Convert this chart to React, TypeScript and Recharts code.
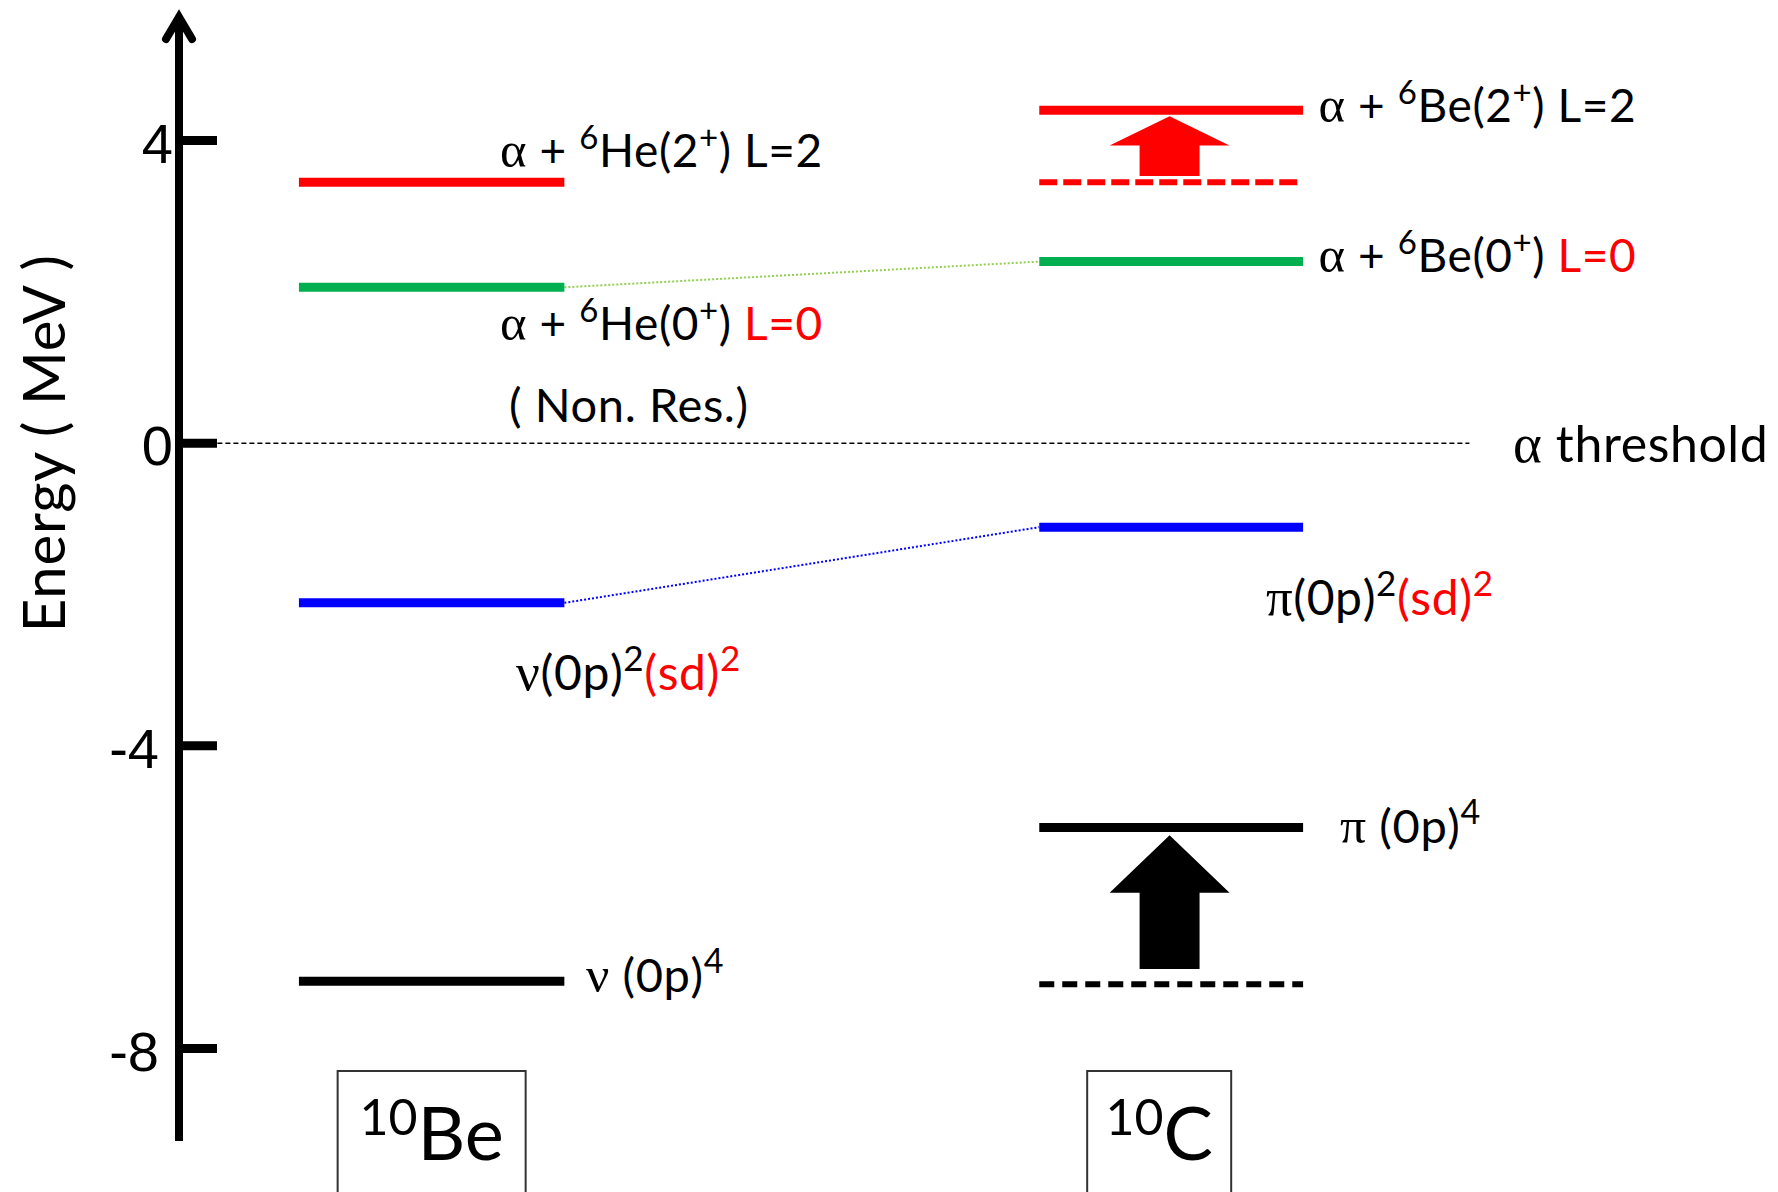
import React from "react";
import {
  ComposedChart,
  Line,
  Scatter,
  XAxis,
  YAxis,
  ReferenceArea,
  ReferenceDot,
} from "recharts";

// energies in MeV, measured from the alpha threshold
const energyTicks = [-8, -4, 0, 4];
const nuclei = ["10Be", "10C"];
// order: (0p)^4, (0p)^2(sd)^2, alpha+6X(0+), alpha+6X(2+)
const be10Levels = [-7.11, -2.11, 2.06, 3.45];
const c10Levels = [-5.08, -1.11, 2.4, 4.4];
// dashed 10C levels = where the 10Be counterpart sits before the shift
const c10Unshifted = [
  { level: 0, energy: -7.15 },
  { level: 3, energy: 3.45 },
];
const shiftArrows = [
  { from: -6.95, to: -5.18, color: "#000000" },
  { from: 3.53, to: 4.32, color: "#ff0000" },
];

const W = 1778;
const H = 1192;
const Y_MIN = -9.222;
const Y_MAX = 5.593;

const levelColors = ["#000000", "#0000ff", "#00b050", "#ff0000"];
const connectorColors: Record<number, string> = { 1: "#0000ff", 2: "#92d050" };

// horizontal layout, x axis runs 0..100
const BE_SPAN = [7.5, 24.1];
const C_SPAN = [53.8, 70.3];
const THRESHOLD_SPAN = [2.4, 80.7];
const ARROW_SPAN = [58.2, 65.7];
const BOX_X = [15.8, 61.3];
const BOX_W = [188, 144];

const FONT = "Lato, 'Open Sans', sans-serif";
const GREEK = "'Liberation Serif', 'DejaVu Serif', serif";
const RED = "#ff0000";

type Part = { t: string; sup?: boolean; red?: boolean; greek?: boolean };

const levelLabels: { id: string; size: number; parts: Part[] }[] = [
  {
    id: "he2",
    size: 46,
    parts: [
      { t: "α", greek: true },
      { t: " + " },
      { t: "6", sup: true },
      { t: "He(2" },
      { t: "+", sup: true },
      { t: ") L=2" },
    ],
  },
  {
    id: "he0",
    size: 46,
    parts: [
      { t: "α", greek: true },
      { t: " + " },
      { t: "6", sup: true },
      { t: "He(0" },
      { t: "+", sup: true },
      { t: ") " },
      { t: "L=0", red: true },
    ],
  },
  { id: "nonres", size: 47, parts: [{ t: "( Non. Res.)" }] },
  { id: "thr", size: 50, parts: [{ t: "α", greek: true }, { t: " threshold" }] },
  {
    id: "nusd",
    size: 48,
    parts: [
      { t: "ν", greek: true },
      { t: "(0p)" },
      { t: "2", sup: true },
      { t: "(sd)", red: true },
      { t: "2", sup: true, red: true },
    ],
  },
  {
    id: "nup",
    size: 47,
    parts: [{ t: "ν", greek: true }, { t: " (0p)" }, { t: "4", sup: true }],
  },
  {
    id: "be2",
    size: 46,
    parts: [
      { t: "α", greek: true },
      { t: " + " },
      { t: "6", sup: true },
      { t: "Be(2" },
      { t: "+", sup: true },
      { t: ") L=2" },
    ],
  },
  {
    id: "be0",
    size: 46,
    parts: [
      { t: "α", greek: true },
      { t: " + " },
      { t: "6", sup: true },
      { t: "Be(0" },
      { t: "+", sup: true },
      { t: ") " },
      { t: "L=0", red: true },
    ],
  },
  {
    id: "pisd",
    size: 48,
    parts: [
      { t: "π", greek: true },
      { t: "(0p)" },
      { t: "2", sup: true },
      { t: "(sd)", red: true },
      { t: "2", sup: true, red: true },
    ],
  },
  {
    id: "pip",
    size: 47,
    parts: [{ t: "π", greek: true }, { t: " (0p)" }, { t: "4", sup: true }],
  },
];

// baseline-left anchor of every label
const labelAnchors = [
  { id: "he2", x: 20.08, y: 3.65 },
  { id: "he0", x: 20.08, y: 1.364 },
  { id: "nonres", x: 20.64, y: 0.28 },
  { id: "thr", x: 83.43, y: -0.248 },
  { id: "nusd", x: 21.08, y: -3.262 },
  { id: "nup", x: 25.45, y: -7.253 },
  { id: "be2", x: 71.27, y: 4.249 },
  { id: "be0", x: 71.27, y: 2.266 },
  { id: "pisd", x: 67.98, y: -2.27 },
  { id: "pip", x: 72.61, y: -5.283 },
];

const RichText = ({ x, y, size, parts }: { x: number; y: number; size: number; parts: Part[] }) => {
  const supSize = Math.round(size * 0.72);
  const shift = Math.round(size * 0.4);
  let raised = false;
  return (
    <text x={x} y={y} fontFamily={FONT} fontSize={size} fill="#000" letterSpacing={0.6}>
      {parts.map((p, i) => {
        let dy = 0;
        if (p.sup && !raised) {
          dy = -shift;
          raised = true;
        } else if (!p.sup && raised) {
          dy = shift;
          raised = false;
        }
        return (
          <tspan
            key={i}
            dy={dy}
            fill={p.red ? RED : "#000"}
            fontSize={p.sup ? supSize : p.greek ? size * 1.1 : size}
            fontFamily={p.greek ? GREEK : FONT}
          >
            {p.t}
          </tspan>
        );
      })}
    </text>
  );
};

const LabelShape = (props: any) => {
  const { cx, cy, payload } = props;
  const label = levelLabels.find((l) => l.id === payload.id);
  if (!label) return null;
  return <RichText x={cx} y={cy} size={label.size} parts={label.parts} />;
};

const EnergyTick = (props: any) => {
  const { x, y, payload } = props;
  const v = payload.value;
  return (
    <g>
      <line x1={x} x2={x + 38} y1={y} y2={y} stroke="#000" strokeWidth={9} />
      <text
        x={v < 0 ? x - 20 : x - 6}
        y={y + 22}
        textAnchor="end"
        fontFamily="'Liberation Sans', Arial, sans-serif"
        fontSize={56}
        fill="#000"
      >
        {v}
      </text>
    </g>
  );
};

const NucleusTick = (props: any) => {
  const { x, y, index } = props;
  const name = nuclei[index] ?? "";
  const mass = name.match(/^\d+/)?.[0] ?? "";
  const symbol = name.slice(mass.length);
  const w = BOX_W[index] ?? 150;
  return (
    <g>
      <rect x={x - w / 2} y={y - 70} width={w} height={200} fill="#fff" stroke="#333" strokeWidth={2} />
      <text x={x} y={y + 19} textAnchor="middle" fontFamily={FONT} fill="#000">
        <tspan fontSize={50} dy={-25}>
          {mass}
        </tspan>
        <tspan fontSize={74} dy={25}>
          {symbol}
        </tspan>
      </text>
    </g>
  );
};

const AxisArrowHead = (props: any) => {
  const { cx, cy } = props;
  const a = cy - 3;
  return (
    <path
      d={`M${cx - 13},${a + 22} L${cx},${a} L${cx + 13},${a + 22}`}
      fill="none"
      stroke="#000"
      strokeWidth={8}
      strokeLinecap="round"
      strokeLinejoin="miter"
    />
  );
};

const BlockArrow = (props: any) => {
  const { x, y, width, height, fill, headRatio } = props;
  const cx = x + width / 2;
  const headY = y + height * headRatio;
  const s = width / 4;
  return (
    <polygon
      points={`${cx},${y} ${x + width},${headY} ${cx + s},${headY} ${cx + s},${y + height} ${cx - s},${y + height} ${cx - s},${headY} ${x},${headY}`}
      fill={fill}
    />
  );
};

const EnergyTitle = (props: any) => {
  const vb = props.viewBox ?? { x: 0, y: 20, width: 179, height: 1121 };
  const cx = vb.x + 43;
  const cy = vb.y + (vb.height * Y_MAX) / (Y_MAX - Y_MIN);
  return (
    <text
      x={cx}
      y={cy}
      transform={`rotate(-90, ${cx}, ${cy})`}
      textAnchor="middle"
      dominantBaseline="central"
      fontFamily={FONT}
      fontSize={58}
      letterSpacing={0.8}
      fill="#000"
    >
      Energy ( MeV )
    </text>
  );
};

const seg = (x0: number, x1: number, y0: number, y1: number) => [
  { x: x0, y: y0 },
  { x: x1, y: y1 },
];

export default function App() {
  return (
    <div style={{ width: W, height: H, background: "#fff" }}>
      <style>{"body{margin:0}"}</style>
      <ComposedChart width={W} height={H} margin={{ top: 20, right: 0, bottom: 0, left: 0 }}>
        <XAxis
          type="number"
          dataKey="x"
          domain={[0, 100]}
          ticks={BOX_X}
          interval={0}
          height={51}
          axisLine={false}
          tickLine={false}
          tickSize={0}
          tickMargin={0}
          tick={<NucleusTick />}
        />
        <YAxis
          type="number"
          dataKey="y"
          domain={[Y_MIN, Y_MAX]}
          ticks={energyTicks}
          interval={0}
          width={179}
          axisLine={{ stroke: "#000", strokeWidth: 8 }}
          tickLine={false}
          tickSize={0}
          tickMargin={0}
          tick={<EnergyTick />}
          label={{ content: EnergyTitle }}
        />

        {/* alpha threshold */}
        <Line
          data={seg(THRESHOLD_SPAN[0], THRESHOLD_SPAN[1], 0, 0)}
          dataKey="y"
          stroke="#000"
          strokeWidth={1.6}
          strokeDasharray="5 3"
          dot={false}
          activeDot={false}
          isAnimationActive={false}
        />

        {/* dotted links between mirror levels */}
        {[1, 2].map((i) => (
          <Line
            key={`link-${i}`}
            data={seg(BE_SPAN[1], C_SPAN[0], be10Levels[i], c10Levels[i])}
            dataKey="y"
            stroke={connectorColors[i]}
            strokeWidth={2}
            strokeDasharray="2 2"
            dot={false}
            activeDot={false}
            isAnimationActive={false}
          />
        ))}

        {be10Levels.map((e, i) => (
          <Line
            key={`be-${i}`}
            data={seg(BE_SPAN[0], BE_SPAN[1], e, e)}
            dataKey="y"
            stroke={levelColors[i]}
            strokeWidth={9}
            dot={false}
            activeDot={false}
            isAnimationActive={false}
          />
        ))}

        {c10Levels.map((e, i) => (
          <Line
            key={`c-${i}`}
            data={seg(C_SPAN[0], C_SPAN[1], e, e)}
            dataKey="y"
            stroke={levelColors[i]}
            strokeWidth={9}
            dot={false}
            activeDot={false}
            isAnimationActive={false}
          />
        ))}

        {c10Unshifted.map((d) => (
          <Line
            key={`c-old-${d.level}`}
            data={seg(C_SPAN[0], C_SPAN[1], d.energy, d.energy)}
            dataKey="y"
            stroke={levelColors[d.level]}
            strokeWidth={6}
            strokeDasharray={d.level === 3 ? "18 6" : "15 8"}
            dot={false}
            activeDot={false}
            isAnimationActive={false}
          />
        ))}

        {shiftArrows.map((a, i) => (
          <ReferenceArea
            key={`arrow-${i}`}
            x1={ARROW_SPAN[0]}
            x2={ARROW_SPAN[1]}
            y1={a.from}
            y2={a.to}
            shape={(p: any) => (
              <BlockArrow {...p} fill={a.color} headRatio={a.color === RED ? 0.49 : 0.43} />
            )}
          />
        ))}

        <Scatter data={labelAnchors} shape={LabelShape} isAnimationActive={false} />

        <ReferenceDot x={0} y={Y_MAX} r={1} ifOverflow="visible" shape={AxisArrowHead} />
      </ComposedChart>
    </div>
  );
}
